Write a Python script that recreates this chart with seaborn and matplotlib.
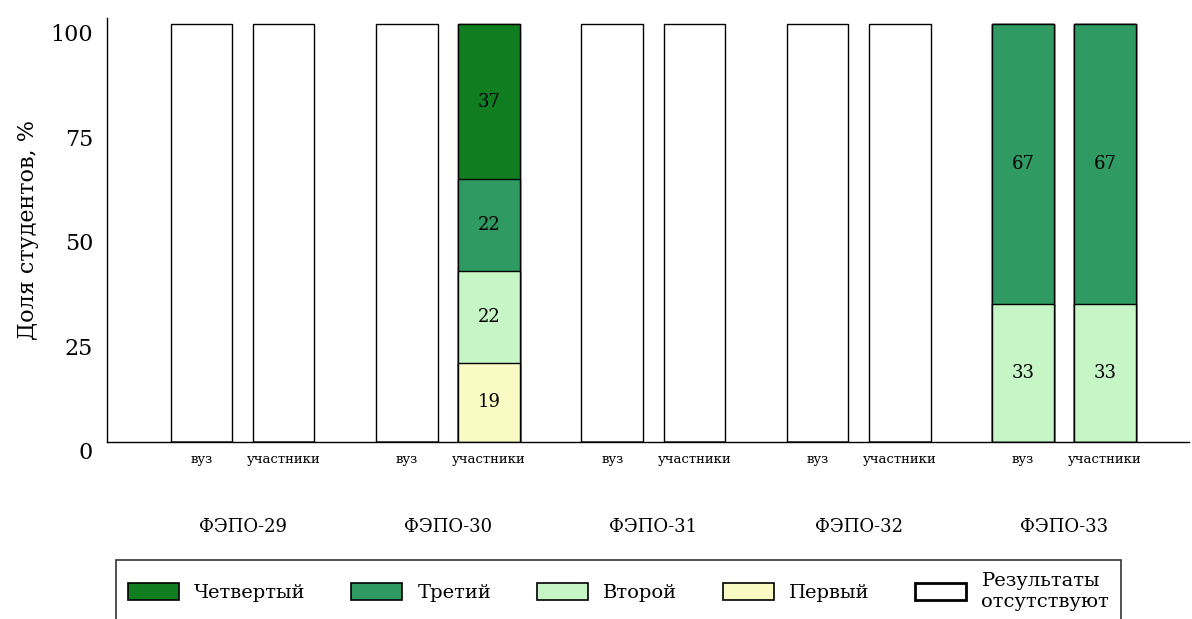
import pandas as pd
import numpy as np
import matplotlib
matplotlib.use("Agg")
import matplotlib.pyplot as plt
from matplotlib.patches import Patch
import seaborn as sns

groups = ['ФЭПО-29', 'ФЭПО-30', 'ФЭПО-31', 'ФЭПО-32', 'ФЭПО-33']
sources = ['вуз', 'участники']

# values per bar, order: (group, source)
first = [0, 0, 0, 19, 0, 0, 0, 0, 0, 0]
second = [0, 0, 0, 22, 0, 0, 0, 0, 33, 33]
third = [0, 0, 0, 22, 0, 0, 0, 0, 67, 67]
fourth = [0, 0, 0, 37, 0, 0, 0, 0, 0, 0]
missing = [100, 100, 100, 0, 100, 100, 100, 100, 0, 0]

levels = ['Первый', 'Второй', 'Третий', 'Четвертый', 'Результаты\nотсутствуют']
colors = {'Четвертый': '#0f7d20', 'Третий': '#2f9a62', 'Второй': '#c6f5c6',
          'Первый': '#fafac4', 'Результаты\nотсутствуют': '#ffffff'}

df = pd.DataFrame({
    'group': np.repeat(groups, 2),
    'source': sources * len(groups),
    'Первый': first, 'Второй': second, 'Третий': third,
    'Четвертый': fourth, 'Результаты\nотсутствуют': missing,
})
cum = df[levels].cumsum(axis=1)

sns.set_style("white")
plt.rcParams['font.family'] = ['DejaVu Serif']
plt.rcParams['text.color'] = 'black'
plt.rcParams['axes.labelcolor'] = 'black'
plt.rcParams['xtick.color'] = 'black'
plt.rcParams['ytick.color'] = 'black'

fig = plt.figure(figsize=(11.92, 6.19), dpi=100)
ax = fig.add_axes([0.0898, 0.286, 0.908, 0.685])

# draw cumulative layers from top to bottom
for lev in levels[::-1]:
    d = df[['group', 'source']].copy()
    d['val'] = cum[lev]
    sns.barplot(data=d, x='group', y='val', hue='source', order=groups, hue_order=sources,
                dodge=True, width=0.8, gap=0.25, palette=[colors[lev]] * 2,
                edgecolor='black', linewidth=1, legend=False, ax=ax, saturation=1)

# segment labels
n = len(groups)
for i, (_, row) in enumerate(df.iterrows()):
    gi = groups.index(row['group'])
    xs = gi + (-0.2 if row['source'] == 'вуз' else 0.2)
    base = 0
    for lev in levels[:-1]:
        v = row[lev]
        if v > 0:
            ax.text(xs, base + v / 2, str(v), ha='center', va='center', fontsize=13)
        base += v

ax.set_xlim(-0.66, 4.61)
ax.set_ylim(0, 101.5)
ax.set_yticks([0, 25, 50, 75, 100])
ax.tick_params(axis='y', labelsize=16, length=0, pad=10)
for t in ax.get_yticklabels():
    t.set_va('top')
ax.set_ylabel('Доля студентов, %', fontsize=16, labelpad=8)
ax.set_xlabel('')

ax.set_xticks(range(n))
ax.set_xticklabels(groups, fontsize=13)
ax.tick_params(axis='x', which='major', length=0, pad=55)
minor = [g + o for g in range(n) for o in (-0.2, 0.2)]
ax.set_xticks(minor, minor=True)
ax.set_xticklabels(sources * n, minor=True, fontsize=9.5)
ax.tick_params(axis='x', which='minor', length=0, pad=8)

sns.despine(ax=ax)
for s in ['left', 'bottom']:
    ax.spines[s].set_color('black')
    ax.spines[s].set_linewidth(1)

lab = ['Четвертый', 'Третий', 'Второй', 'Первый', 'Результаты\nотсутствуют']
handles = [Patch(facecolor=colors[l], edgecolor='black', linewidth=1.2 if l != lab[-1] else 2)
           for l in lab]
leg = fig.legend(handles, lab, loc='upper center', bbox_to_anchor=(0.519, 0.095), ncol=5,
                 fontsize=14, frameon=True, fancybox=False, edgecolor='black',
                 columnspacing=2.35, handlelength=2.6, handleheight=0.9, borderpad=0.6,
                 borderaxespad=0)
leg.get_frame().set_linewidth(1.2)

fig.savefig('out.png', dpi=100)
